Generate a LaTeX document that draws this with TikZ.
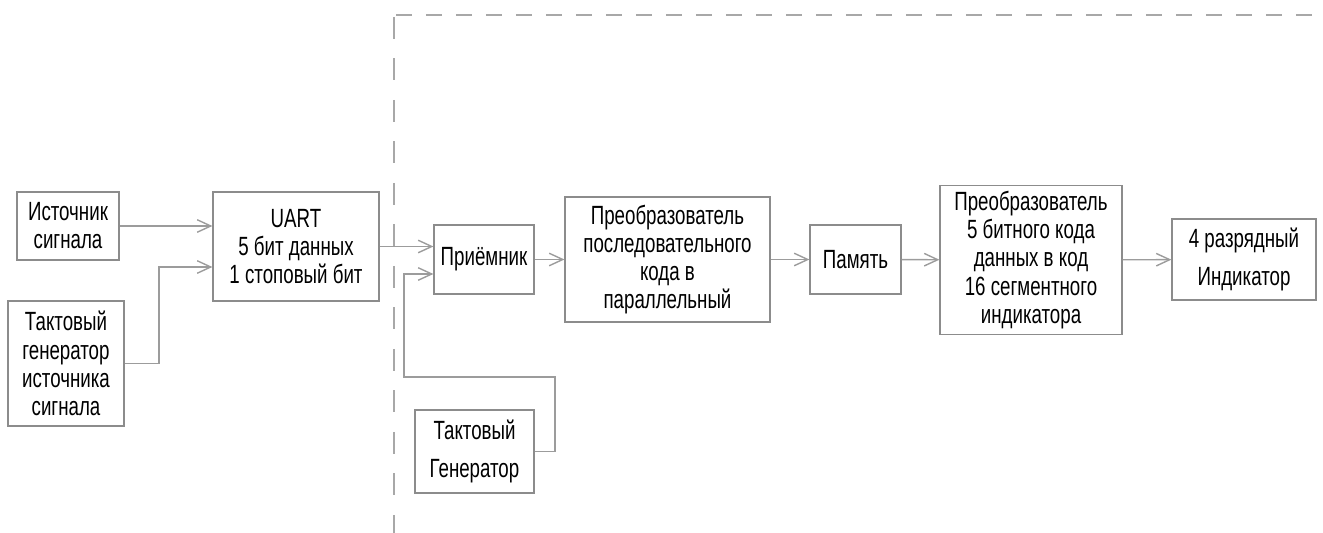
\documentclass[tikz,border=0pt]{standalone}
\usepackage{fontspec}
\setmainfont[FakeStretch=0.71]{Liberation Sans}
\usetikzlibrary{arrows.meta}
\definecolor{frame}{HTML}{8C8C8C}
\definecolor{wiregray}{HTML}{9C9C9C}
\definecolor{cutgray}{HTML}{A8A8A8}
\tikzset{
  blok/.style={draw=frame, line width=0.7pt, align=center, inner sep=0pt, text=black,
    font=\fontsize{15}{16}\selectfont},
  link/.style={draw=wiregray, line width=0.8pt, -{Straight Barb[length=2.7mm, width=2.5mm]}},
  cut/.style={draw=cutgray, line width=0.6pt}
}

\begin{document}
\begin{tikzpicture}[x=0.02cm, y=-0.02cm]
  \useasboundingbox (0,0) rectangle (1323,533);
  \draw[cut, dash pattern=on 0.32cm off 0.28cm] (396,15) -- (1323,15);
  \draw[cut, dash pattern=on 0.44cm off 0.39cm] (394,17) -- (394,533);
  \node[blok, minimum width=2.04cm, minimum height=1.36cm] (ist) at (68,226) {Источник\\сигнала};
  \node[blok, minimum width=2.32cm, minimum height=2.5cm] (takt1) at (66,363.5) {Тактовый\\генератор\\источника\\сигнала};
  \node[blok, minimum width=3.32cm, minimum height=2.18cm] (uart) at (296,246.5) {UART\\5 бит данных\\1 стоповый бит};
  \node[blok, minimum width=2.0cm, minimum height=1.38cm] (rx) at (484,259.5) {Приёмник};
  \node[blok, minimum width=2.38cm, minimum height=1.66cm] (takt2) at (474.5,451.5) {Тактовый\\[6pt]Генератор};
  \node[blok, minimum width=4.1cm, minimum height=2.5cm] (conv1) at (667.5,259.5) {Преобразователь\\последовательного\\кода в\\параллельный};
  \node[blok, minimum width=1.82cm, minimum height=1.38cm] (mem) at (855.5,259.5) {Память};
  \node[blok, minimum width=3.64cm, minimum height=2.98cm] (conv2) at (1031,260) {Преобразователь\\5 битного кода\\данных в код\\16 сегментного\\индикатора};
  \node[blok, minimum width=2.88cm, minimum height=1.62cm] (ind) at (1244,259.5) {4 разрядный\\[6pt]Индикатор};
  \coordinate (k1) at (159,267);
  \coordinate (k2) at (555,377);
  \coordinate (k3) at (404,274);
  \draw[link] (ist.east) -- (ist.east -| uart.west);
  \draw[link] (takt1.east) -| (k1) -- (k1 -| uart.west);
  \draw[link] (uart.east) -- (uart.east -| rx.west);
  \draw[link] (takt2.east) -| (k2) -| (k3) -- (k3 -| rx.west);
  \foreach \a/\b in {rx/conv1, conv1/mem, mem/conv2, conv2/ind}
    \draw[link] (\a) -- (\b);
\end{tikzpicture}
\end{document}
